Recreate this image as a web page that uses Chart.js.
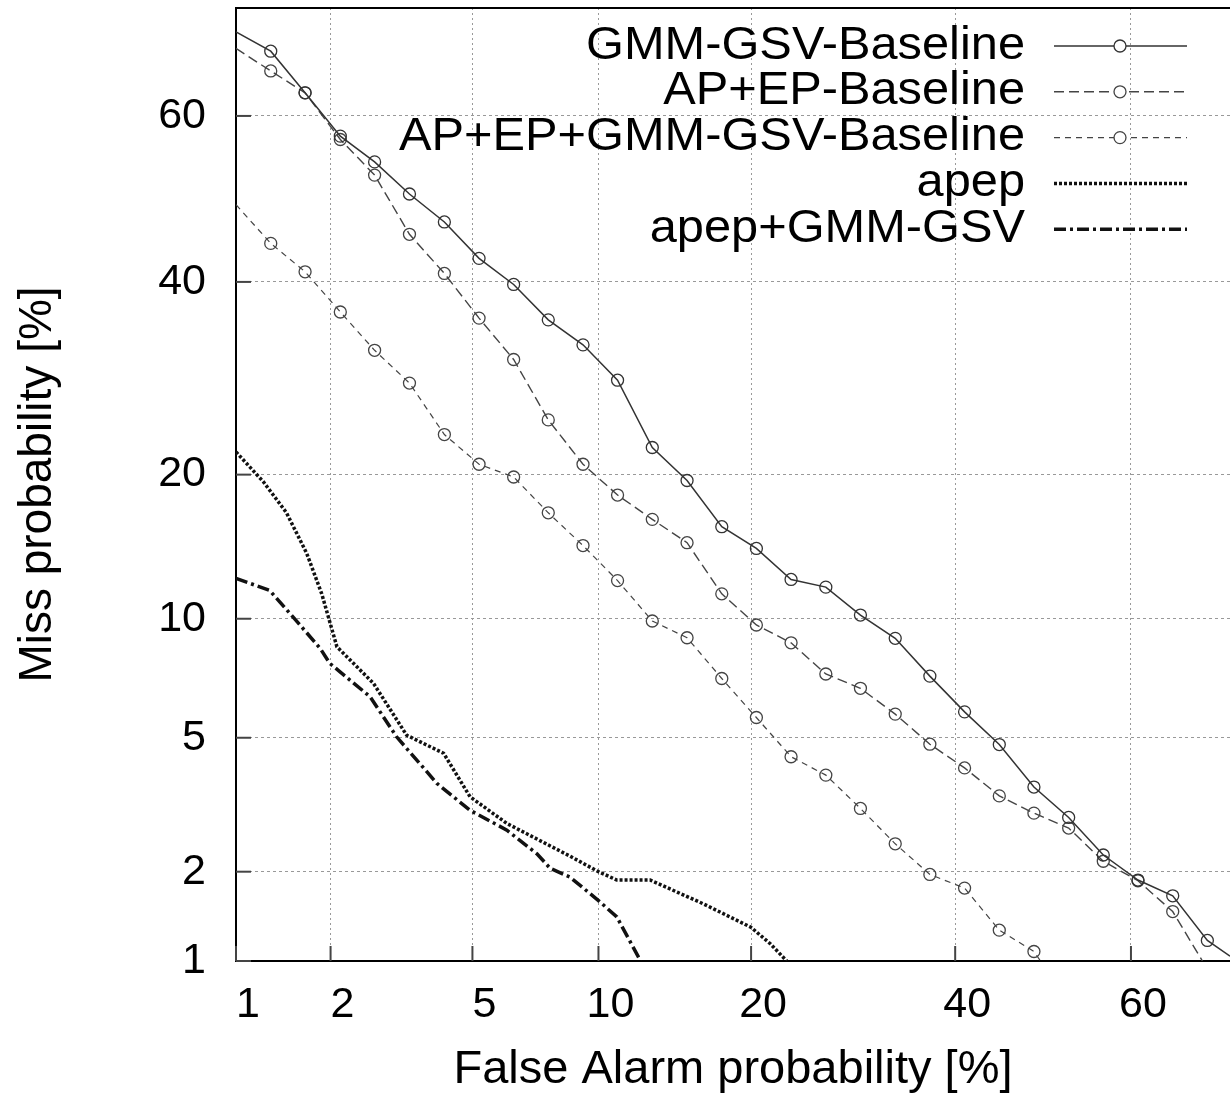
<!DOCTYPE html>
<html>
<head>
<meta charset="utf-8">
<title>DET curves</title>
<script src="https://cdn.jsdelivr.net/npm/chart.js@4.4.1/dist/chart.umd.min.js"></script>
<style>
  html, body { margin: 0; padding: 0; background: #fff; }
  #detChart { display: block; }
</style>
</head>
<body>
<canvas id="detChart" width="1230" height="1098"></canvas>
<script>
// Tick labels (percent)
const faTicks = [1, 2, 5, 10, 20, 40, 60];
const missTicks = [1, 2, 5, 10, 20, 40, 60];

// Axis ranges (percent)
const faRange = [1, 70.5];
const missRange = [1, 72];

// GMM-GSV-Baseline
const gmmFa = [1.0, 1.30, 1.67, 2.14, 2.70, 3.39, 4.22, 5.20, 6.35, 7.69, 9.24, 11.0, 13.0, 15.24, 17.72,
    20.43, 23.38, 26.56, 29.93, 33.5, 37.21, 41.05, 44.98, 48.95, 52.94, 56.89, 60.78, 64.57, 68.21, 70.5];
const gmmMiss = [69.5, 67.4, 62.7, 57.6, 54.5, 50.6, 47.2, 42.8, 39.7, 35.6, 32.8, 29.0, 22.4, 19.5, 15.85,
    14.3, 12.27, 11.8, 10.2, 8.99, 7.26, 5.87, 4.79, 3.63, 2.95, 2.26, 1.88, 1.67, 1.18, 1.04];

// AP+EP-Baseline
const apepBaseFa = [1.0, 1.30, 1.67, 2.14, 2.70, 3.39, 4.22, 5.20, 6.35, 7.69, 9.24, 11.0, 13.0, 15.24, 17.72,
    20.43, 23.38, 26.56, 29.93, 33.5, 37.21, 41.05, 44.98, 48.95, 52.94, 56.89, 60.78, 64.57, 67.7];
const apepBaseMiss = [67.7, 65.2, 62.7, 57.2, 52.9, 45.7, 41.0, 35.8, 31.2, 25.0, 20.9, 18.3, 16.4, 14.7, 11.4,
    9.67, 8.77, 7.35, 6.76, 5.79, 4.80, 4.12, 3.42, 3.04, 2.74, 2.16, 1.87, 1.48, 1.0];

// AP+EP+GMM-GSV-Baseline
const fusionBaseFa = [1.0, 1.30, 1.67, 2.14, 2.70, 3.39, 4.22, 5.20, 6.35, 7.69, 9.24, 11.0, 13.0, 15.24, 17.72,
    20.43, 23.38, 26.56, 29.93, 33.5, 37.21, 41.05, 44.98, 48.95, 49.7];
const fusionBaseMiss = [49.3, 44.6, 41.2, 36.5, 32.2, 28.7, 23.6, 20.9, 19.8, 16.9, 14.5, 12.2, 9.88, 9.02, 7.16,
    5.67, 4.43, 3.93, 3.14, 2.45, 1.96, 1.77, 1.28, 1.08, 1.0];

// apep
const apepFa = [1.0, 1.23, 1.46, 1.69, 1.88, 2.09, 2.68, 3.33, 4.2, 4.93, 6.11, 8.64, 10.0, 10.96, 12.87,
    16.38, 19.98, 21.58, 23.0];
const apepMiss = [22.0, 19.4, 16.9, 13.96, 11.4, 8.58, 6.96, 5.08, 4.53, 3.4, 2.83, 2.24, 2.0, 1.88, 1.88,
    1.57, 1.31, 1.15, 1.0];

// apep+GMM-GSV
const apepGmmFa = [1.0, 1.29, 1.53, 1.86, 1.99, 2.62, 3.12, 4.03, 4.93, 6.11, 7.23, 7.77, 8.64, 10.0, 10.96, 12.3];
const apepGmmMiss = [12.34, 11.6, 10.1, 8.5, 7.81, 6.43, 5.03, 3.72, 3.1, 2.7, 2.28, 2.05, 1.92, 1.61, 1.42, 1.0];

// Inversa de la normal (Acklam)
function probit(p) {
    const a = [-3.969683028665376e+01, 2.209460984245205e+02, -2.759285104469687e+02, 1.383577518672690e+02, -3.066479806614716e+01, 2.506628277459239e+00];
    const b = [-5.447609879822406e+01, 1.615858368580409e+02, -1.556989798598866e+02, 6.680131188771972e+01, -1.328068155288572e+01];
    const c = [-7.784894002430293e-03, -3.223964580411365e-01, -2.400758277161838e+00, -2.549732539343734e+00, 4.374664141464968e+00, 2.938163982698783e+00];
    const d = [7.784695709041462e-03, 3.224671290700398e-01, 2.445134137142996e+00, 3.754408661907416e+00];
    const pl = 0.02425;
    let q, r;
    if (p < pl) {
        q = Math.sqrt(-2 * Math.log(p));
        return (((((c[0] * q + c[1]) * q + c[2]) * q + c[3]) * q + c[4]) * q + c[5]) /
            ((((d[0] * q + d[1]) * q + d[2]) * q + d[3]) * q + 1);
    }
    if (p > 1 - pl) {
        q = Math.sqrt(-2 * Math.log(1 - p));
        return -(((((c[0] * q + c[1]) * q + c[2]) * q + c[3]) * q + c[4]) * q + c[5]) /
            ((((d[0] * q + d[1]) * q + d[2]) * q + d[3]) * q + 1);
    }
    q = p - 0.5;
    r = q * q;
    return (((((a[0] * r + a[1]) * r + a[2]) * r + a[3]) * r + a[4]) * r + a[5]) * q /
        (((((b[0] * r + b[1]) * r + b[2]) * r + b[3]) * r + b[4]) * r + 1);
}

// Escala de desviacion normal para curvas DET
class ProbitScale extends Chart.LinearScale {
    determineDataLimits() {
        this.min = this.options.min;
        this.max = this.options.max;
    }
    buildTicks() {
        const vals = this.axis === 'x' ? faTicks : missTicks;
        return vals.map(v => ({ value: v }));
    }
    configure() {
        super.configure();
        this._zStart = probit(this.min / 100);
        this._zEnd = probit(this.max / 100);
    }
    getPixelForValue(value) {
        const z = probit(value / 100);
        return this.getPixelForDecimal((z - this._zStart) / (this._zEnd - this._zStart));
    }
}
ProbitScale.id = 'probit';
Chart.register(ProbitScale);

function toPoints(fa, miss) {
    return fa.map((x, i) => ({ x: x, y: miss[i] }));
}

function seriesStyle(label, fa, miss, opts) {
    const n = fa.length;
    return Object.assign({
        label: label,
        data: toPoints(fa, miss),
        fill: false,
        tension: 0,
        backgroundColor: 'rgba(0,0,0,0)',
        pointBackgroundColor: 'rgba(0,0,0,0)',
        pointStyle: 'circle',
        pointRadius: ctx => (opts.markers && ctx.dataIndex > 0 && ctx.dataIndex < n - 1) ? 6 : 0,
        pointHoverRadius: 0
    }, opts);
}

const datasets = [
    seriesStyle('GMM-GSV-Baseline', gmmFa, gmmMiss,
        { markers: true, borderColor: '#333', pointBorderColor: '#333', borderWidth: 1.5, pointBorderWidth: 1.3, borderDash: [] }),
    seriesStyle('AP+EP-Baseline', apepBaseFa, apepBaseMiss,
        { markers: true, borderColor: '#444', pointBorderColor: '#444', borderWidth: 1.4, pointBorderWidth: 1.3, borderDash: [10, 5] }),
    seriesStyle('AP+EP+GMM-GSV-Baseline', fusionBaseFa, fusionBaseMiss,
        { markers: true, borderColor: '#444', pointBorderColor: '#444', borderWidth: 1.2, pointBorderWidth: 1.3, borderDash: [6, 5] }),
    seriesStyle('apep', apepFa, apepMiss,
        { markers: false, borderColor: '#111', borderWidth: 3.5, borderDash: [3, 2] }),
    seriesStyle('apep+GMM-GSV', apepGmmFa, apepGmmMiss,
        { markers: false, borderColor: '#111', borderWidth: 3.5, borderDash: [12, 4, 3, 4] })
];

// Leyenda estilo gnuplot, texto a la derecha y muestra de linea
const detLegend = {
    id: 'detLegend',
    afterDatasetsDraw(chart) {
        const ctx = chart.ctx;
        ctx.save();
        ctx.font = '46px "Liberation Sans", Arial, sans-serif';
        ctx.textAlign = 'right';
        ctx.textBaseline = 'middle';
        chart.data.datasets.forEach((ds, i) => {
            const y = 46 + i * 45.8;
            // texto algo ensanchado como en la figura original
            ctx.save();
            ctx.translate(1025, y);
            ctx.scale(1.06, 1);
            ctx.fillStyle = '#000';
            ctx.fillText(ds.label, 0, 0);
            ctx.restore();
            ctx.beginPath();
            ctx.setLineDash(ds.borderDash);
            ctx.lineWidth = ds.borderWidth;
            ctx.strokeStyle = ds.borderColor;
            ctx.moveTo(1054, y);
            ctx.lineTo(1187, y);
            ctx.stroke();
            if (ds.markers) {
                ctx.setLineDash([]);
                ctx.fillStyle = '#fff';
                ctx.lineWidth = ds.pointBorderWidth;
                ctx.beginPath();
                ctx.arc(1120, y, 6, 0, Math.PI * 2);
                ctx.fill();
                ctx.stroke();
            }
        });
        ctx.restore();
    }
};

// Marcas de ticks hacia dentro y borde superior
const detFrame = {
    id: 'detFrame',
    afterDraw(chart) {
        const ctx = chart.ctx;
        const area = chart.chartArea;
        const xs = chart.scales.x;
        const ys = chart.scales.y;
        ctx.save();
        ctx.strokeStyle = '#444';
        ctx.lineWidth = 2;
        xs.ticks.forEach((t, i) => {
            const px = xs.getPixelForTick(i);
            ctx.beginPath();
            ctx.moveTo(px, area.bottom);
            ctx.lineTo(px, area.bottom - 15);
            ctx.stroke();
        });
        ys.ticks.forEach((t, i) => {
            const py = ys.getPixelForTick(i);
            ctx.beginPath();
            ctx.moveTo(area.left, py);
            ctx.lineTo(area.left + 15, py);
            ctx.stroke();
        });
        ctx.strokeStyle = '#000';
        ctx.beginPath();
        ctx.moveTo(area.left, area.top);
        ctx.lineTo(area.right, area.top);
        ctx.stroke();
        ctx.restore();
    }
};

Chart.defaults.font.family = '"Liberation Sans", Arial, sans-serif';
Chart.defaults.color = '#000';

new Chart(document.getElementById('detChart').getContext('2d'), {
    type: 'line',
    data: { datasets: datasets },
    options: {
        responsive: false,
        animation: false,
        events: [],
        layout: { padding: { top: 8, right: 0, bottom: 0, left: 0 } },
        plugins: {
            legend: { display: false },
            tooltip: { enabled: false }
        },
        scales: {
            x: {
                type: 'probit',
                position: 'bottom',
                min: faRange[0],
                max: faRange[1],
                afterFit: scale => {
                    scale.height = 137;
                    scale.paddingLeft = 0;
                    scale.paddingRight = 0;
                },
                border: { display: true, color: '#000', width: 2, dash: [2, 3] },
                grid: { color: '#999', lineWidth: 1, drawTicks: false },
                ticks: {
                    autoSkip: false,
                    maxRotation: 0,
                    padding: 18,
                    labelOffset: 12,
                    font: { size: 43 },
                    callback: (v, i) => String(faTicks[i])
                },
                title: {
                    display: true,
                    text: 'False Alarm probability [%]',
                    font: { size: 47 },
                    padding: { top: 0, bottom: 0 }
                }
            },
            y: {
                type: 'probit',
                position: 'left',
                min: missRange[0],
                max: missRange[1],
                afterFit: scale => {
                    scale.width = 236;
                    scale.paddingTop = 0;
                    scale.paddingBottom = 0;
                },
                border: { display: true, color: '#000', width: 2, dash: [3, 3] },
                grid: { color: '#999', lineWidth: 1, drawTicks: false },
                ticks: {
                    autoSkip: false,
                    padding: 30,
                    font: { size: 43 },
                    callback: (v, i) => String(missTicks[i])
                },
                title: {
                    display: true,
                    text: 'Miss probability [%]',
                    font: { size: 46 },
                    padding: { top: 11, bottom: 0 }
                }
            }
        }
    },
    plugins: [detLegend, detFrame]
});
</script>
</body>
</html>
